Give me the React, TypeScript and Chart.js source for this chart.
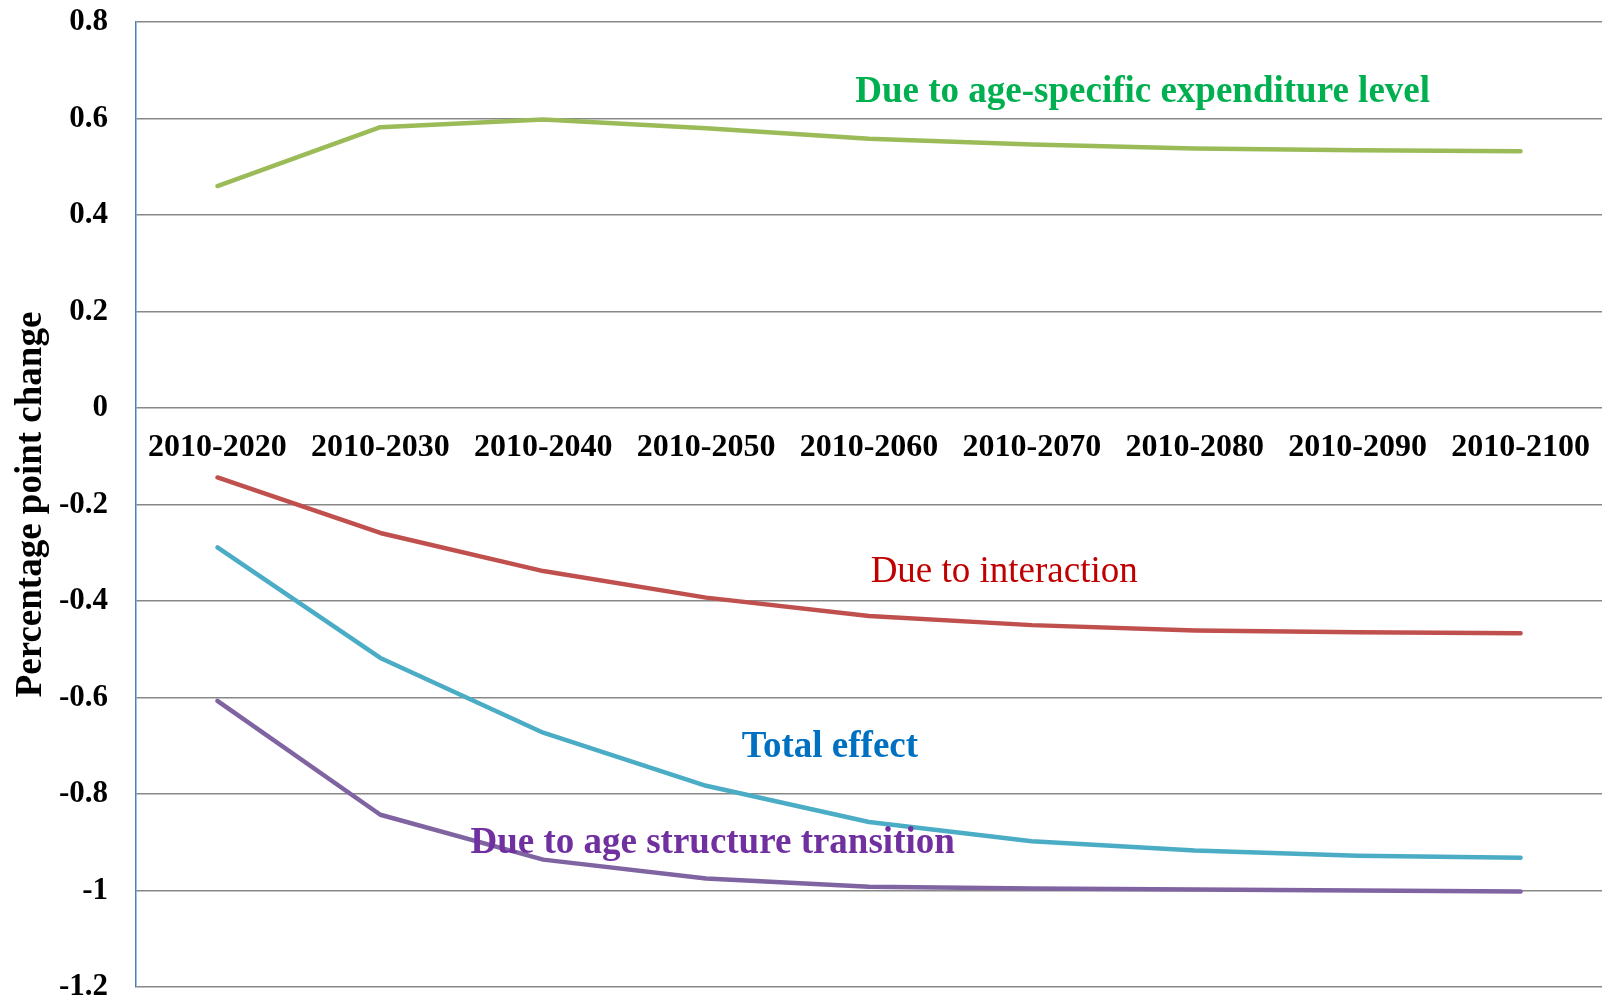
import React, { useEffect, useRef } from "react";
import { Chart, registerables } from "chart.js";

Chart.register(...registerables);

// Decomposition of the change in expenditure share (percentage points)
const periods = [
  "2010-2020", "2010-2030", "2010-2040", "2010-2050", "2010-2060",
  "2010-2070", "2010-2080", "2010-2090", "2010-2100",
];
const expenditureLevel = [0.46, 0.582, 0.598, 0.58, 0.558, 0.546, 0.538, 0.534, 0.532];
const interaction = [-0.144, -0.259, -0.338, -0.393, -0.431, -0.450, -0.461, -0.465, -0.467];
const totalEffect = [-0.289, -0.518, -0.673, -0.783, -0.858, -0.898, -0.917, -0.928, -0.932];
const ageStructure = [-0.607, -0.843, -0.936, -0.975, -0.992, -0.996, -0.998, -1.0, -1.002];

const yTicks = { min: -1.2, max: 0.8, step: 0.2 };

const SERIF = "'Liberation Serif', 'Times New Roman', serif";

// Series captions placed in data space (category index, value)
const captions = [
  { text: "Due to age-specific expenditure level", x: 5.68, y: 0.655, color: "#00B050", bold: true },
  { text: "Due to interaction", x: 4.83, y: -0.340, color: "#C00000", bold: false },
  { text: "Total effect", x: 3.76, y: -0.704, color: "#0070C0", bold: true },
  { text: "Due to age structure transition", x: 3.04, y: -0.903, color: "#7030A0", bold: true },
];

const categoryLabelsPlugin = {
  id: "categoryLabelsAtZero",
  afterDraw(chart: any) {
    const { ctx, scales } = chart;
    const xs = scales.x;
    const ys = scales.y;
    const y0 = ys.getPixelForValue(0) + 40;
    ctx.save();
    ctx.font = `bold 32px ${SERIF}`;
    ctx.fillStyle = "#000";
    ctx.textAlign = "center";
    ctx.textBaseline = "middle";
    periods.forEach((p, i) => {
      ctx.fillText(p, xs.getPixelForValue(i), y0);
    });
    ctx.restore();
  },
};

const captionsPlugin = {
  id: "seriesCaptions",
  afterDatasetsDraw(chart: any) {
    const { ctx, scales } = chart;
    ctx.save();
    ctx.textAlign = "center";
    ctx.textBaseline = "middle";
    captions.forEach((c) => {
      ctx.font = `${c.bold ? "bold " : ""}37px ${SERIF}`;
      ctx.fillStyle = c.color;
      ctx.fillText(c.text, scales.x.getPixelForValue(c.x), scales.y.getPixelForValue(c.y));
    });
    ctx.restore();
  },
};

export default function App() {
  const canvasRef = useRef<HTMLCanvasElement>(null);

  useEffect(() => {
    if (!canvasRef.current) return;
    const line = (data: number[], color: string) => ({
      data,
      borderColor: color,
      backgroundColor: color,
      borderWidth: 4.5,
      pointRadius: 0,
      tension: 0,
      borderCapStyle: "round" as const,
      borderJoinStyle: "round" as const,
    });
    const chart = new Chart(canvasRef.current, {
      type: "line",
      data: {
        labels: periods,
        datasets: [
          line(expenditureLevel, "#9BBB59"),
          line(interaction, "#C0504D"),
          line(totalEffect, "#4BACC6"),
          line(ageStructure, "#8064A2"),
        ],
      },
      options: {
        animation: false,
        responsive: true,
        maintainAspectRatio: false,
        layout: { padding: { top: 22, bottom: 16, left: 0, right: 6 } },
        plugins: { legend: { display: false }, tooltip: { enabled: false } },
        scales: {
          x: { type: "category", offset: true, display: false },
          y: {
            min: yTicks.min,
            max: yTicks.max,
            ticks: {
              stepSize: yTicks.step,
              padding: 28,
              color: "#000",
              font: { family: SERIF, weight: "bold", size: 31, lineHeight: 1 },
              callback: (v: any) => String(Math.round(Number(v) * 10) / 10),
            },
            grid: { color: "#878787", lineWidth: 1.5, drawTicks: false },
            border: { color: "#4A7EBB", width: 1.5 },
            title: {
              display: true,
              text: "Percentage point change",
              color: "#000",
              font: { family: SERIF, weight: "bold", size: 37, lineHeight: 1 },
              padding: { top: 13, bottom: 0 },
            },
            afterFit: (s: any) => {
              s.width = 136;
              s.paddingTop = 0;
              s.paddingBottom = 0;
            },
          },
        },
      },
      plugins: [categoryLabelsPlugin, captionsPlugin],
    });
    return () => chart.destroy();
  }, []);

  return (
    <div
      style={{
        position: "fixed",
        left: 0,
        top: 0,
        width: 1608,
        height: 1003,
        background: "#fff",
      }}
    >
      <canvas ref={canvasRef} />
    </div>
  );
}
